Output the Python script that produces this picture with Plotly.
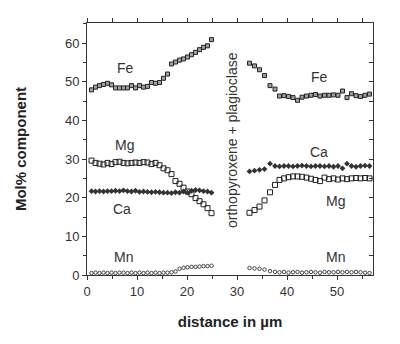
import plotly.graph_objects as go

# distance positions (µm)
x_left = [0.9, 1.7, 2.5, 3.3, 4.1, 4.9, 5.7, 6.5, 7.3, 8.1, 8.9, 9.7, 10.5, 11.3, 12.1,
          12.9, 13.7, 14.5, 15.3, 16.1, 16.9, 17.7, 18.5, 19.3, 20.1, 20.9, 21.7, 22.5,
          23.3, 24.1, 24.9]
x_right = [32.5, 33.5, 34.5, 35.5, 36.6, 37.6, 38.5, 39.4, 40.3, 41.2, 42.1, 43.0, 43.9,
           44.8, 45.7, 46.6, 47.5, 48.4, 49.3, 50.2, 51.1, 52.0, 52.9, 53.8, 54.7, 55.6, 56.5]

fe_left = [47.9, 48.6, 49.0, 49.3, 49.6, 49.2, 48.4, 48.4, 48.4, 48.4, 49.0, 48.4, 49.0,
           48.6, 48.8, 49.8, 49.6, 49.8, 50.9, 52.0, 54.6, 55.1, 55.6, 55.9, 56.4, 57.0,
           57.6, 58.3, 58.9, 59.3, 60.9]
mg_left = [29.6, 29.0, 28.8, 28.6, 29.0, 28.7, 29.2, 29.3, 29.0, 28.9, 29.0, 29.1, 29.0,
           29.2, 29.1, 28.7, 29.0, 28.4, 27.6, 27.1, 26.1, 24.3, 23.6, 22.6, 21.6, 20.9,
           19.9, 19.1, 18.3, 17.3, 16.0]
ca_left = [21.7, 21.6, 21.7, 21.6, 21.7, 21.7, 21.8, 21.7, 21.9, 21.7, 21.6, 21.8, 21.5,
           21.6, 21.5, 21.4, 21.5, 21.4, 21.3, 21.3, 21.2, 21.4, 21.3, 21.6, 21.3, 21.8,
           22.0, 21.9, 21.7, 21.6, 21.3]
mn_left = [0.5, 0.6, 0.5, 0.6, 0.5, 0.6, 0.5, 0.6, 0.6, 0.5, 0.6, 0.5, 0.6, 0.5, 0.6,
           0.5, 0.6, 0.5, 0.6, 0.6, 0.7, 0.9, 1.6, 1.9, 2.0, 2.1, 2.1, 2.2, 2.3, 2.3, 2.4]

fe_right = [54.8, 54.1, 53.1, 51.6, 49.0, 48.1, 46.3, 46.4, 46.2, 45.9, 45.2, 46.0, 46.3,
            46.5, 46.7, 46.3, 46.5, 46.5, 46.6, 46.5, 47.6, 45.9, 46.9, 46.4, 46.2, 46.5, 46.8]
ca_right = [26.8, 27.0, 27.2, 27.4, 28.8, 28.2, 28.1, 28.2, 28.2, 28.1, 28.2, 28.3, 28.2,
            28.1, 28.2, 28.2, 28.1, 28.2, 28.0, 28.2, 27.6, 28.8, 28.2, 28.0, 28.2, 28.3, 28.2]
mg_right = [16.1, 16.8, 17.7, 19.3, 21.4, 23.3, 24.6, 25.0, 25.3, 25.5, 25.5, 25.4, 25.2,
            24.9, 24.6, 24.3, 25.2, 24.8, 25.0, 24.7, 25.0, 24.8, 25.0, 25.1, 25.0, 25.1, 25.0]
mn_right = [1.8, 1.7, 1.6, 1.4, 1.0, 0.8, 0.7, 0.8, 0.6, 0.7, 0.8, 0.6, 0.7, 0.8, 0.7,
            0.6, 0.8, 0.7, 0.7, 0.8, 0.7, 0.8, 0.7, 0.8, 0.7, 0.6, 0.5]

labels = ["Fe", "Mg", "Ca", "Mn", "Fe", "Ca", "Mg", "Mn"]
label_x = [7.6, 7.5, 6.9, 7.2, 46.4, 46.3, 49.7, 49.6]
label_y = [53.5, 33.7, 17.1, 4.7, 51.2, 31.9, 19.2, 4.6]
gap_text = "orthopyroxene + plagioclase"

INK = "#333333"
FONT = "Liberation Sans, Arial"
fe_m = dict(symbol="square", size=4, color="#a0a0a0", line=dict(color="#222222", width=1))
mg_m = dict(symbol="square-open", size=5, color="#222222", line=dict(width=1))
ca_m = dict(symbol="diamond", size=4.5, color="#333333", line=dict(width=0))
mn_m = dict(symbol="circle-open", size=3.5, color="#444444", line=dict(width=1))

fig = go.Figure()
for xs, ys, m in [(x_left, fe_left, fe_m), (x_left, mg_left, mg_m), (x_left, ca_left, ca_m),
                  (x_left, mn_left, mn_m), (x_right, fe_right, fe_m), (x_right, mg_right, mg_m),
                  (x_right, ca_right, ca_m), (x_right, mn_right, mn_m)]:
    fig.add_trace(go.Scatter(x=xs, y=ys, mode="markers", marker=m, showlegend=False,
                             cliponaxis=False))

for t, ax, ay in zip(labels, label_x, label_y):
    fig.add_annotation(x=ax, y=ay, text=t, showarrow=False,
                       font=dict(family=FONT, size=14, color=INK))
fig.add_annotation(x=28.9, y=34.8, text=gap_text, textangle=-90, showarrow=False,
                   font=dict(family=FONT, size=14, color=INK))

axis_common = dict(showgrid=False, zeroline=False, linecolor="#333333", linewidth=1,
                   tickcolor="#333333", tickfont=dict(family=FONT, size=13, color=INK))
fig.update_layout(
    width=400, height=344, margin=dict(l=87, r=27, t=23, b=69),
    paper_bgcolor="white", plot_bgcolor="white",
    xaxis=dict(range=[0, 57.2], dtick=10, ticks="outside", ticklen=4,
               minor=dict(dtick=5, ticks="outside", ticklen=3, tickcolor="#333333"),
               showline=True, mirror=False,
               title=dict(text="<b>distance in µm</b>", standoff=18,
                          font=dict(family=FONT, size=15, color="#222222")),
               **axis_common),
    yaxis=dict(range=[0, 65.2], dtick=10, ticks="outside", ticklen=4,
               minor=dict(dtick=5, ticks="outside", ticklen=3, tickcolor="#333333"),
               showline=True, mirror=False,
               title=dict(text="<b>Mol% component</b>", standoff=34,
                          font=dict(family=FONT, size=15, color="#222222")),
               **axis_common),
    xaxis2=dict(range=[0, 57.2], overlaying="x", side="top", dtick=5, ticks="outside",
                ticklen=4, showticklabels=False, showline=True, anchor="y", **axis_common),
    yaxis2=dict(range=[0, 65.2], overlaying="y", side="right", dtick=5, ticks="inside",
                ticklen=4, showticklabels=False, showline=True, anchor="x", **axis_common),
)
fig.add_trace(go.Scatter(x=[None], y=[None], xaxis="x2", yaxis="y2", showlegend=False))
fig.write_html("out.html")
